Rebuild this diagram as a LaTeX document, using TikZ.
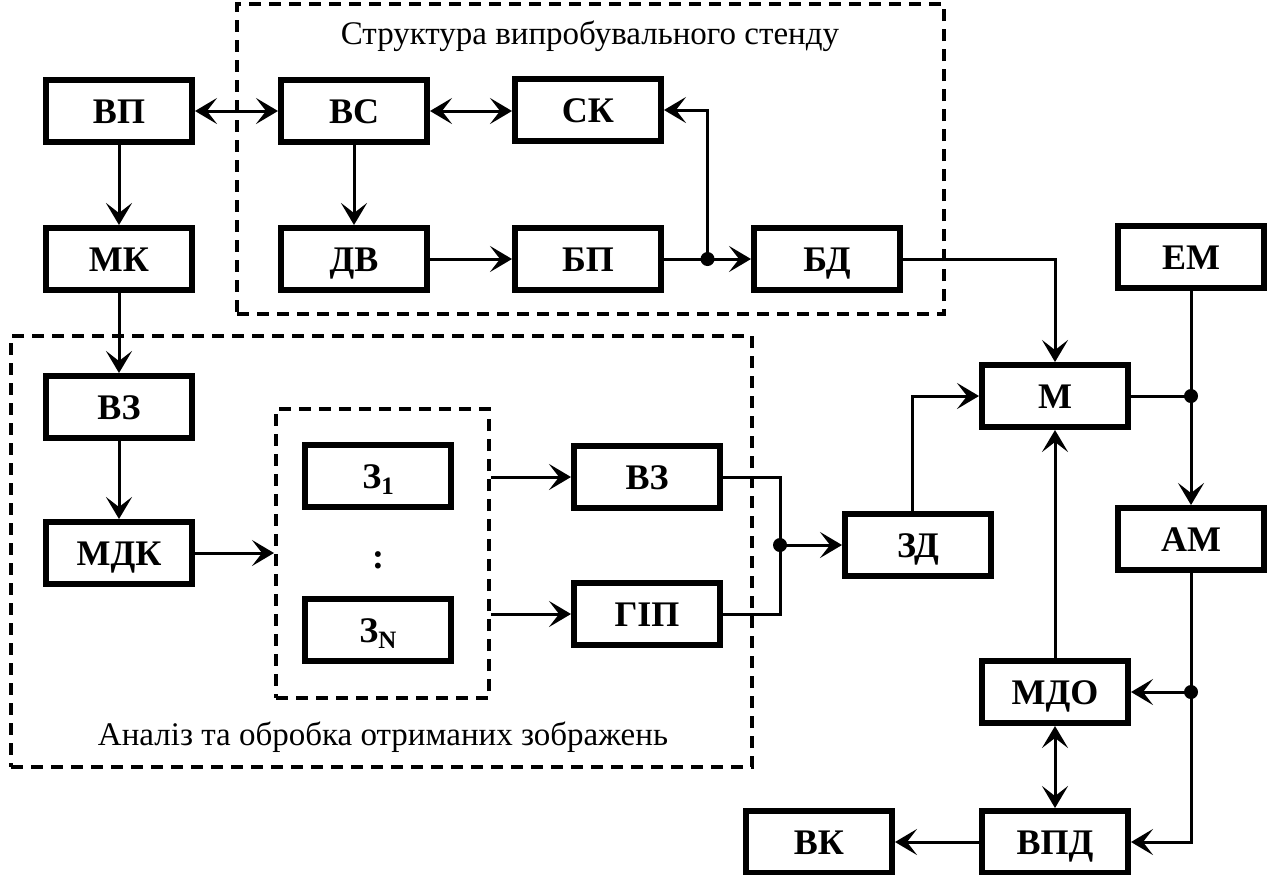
\documentclass[tikz,border=0pt]{standalone}
\usepackage{fontspec}
\setmainfont{Liberation Serif}
\usetikzlibrary{arrows.meta,fit,calc}
\newcommand{\lowidx}[1]{\raisebox{-0.4ex}{\fontsize{12.5}{12.5}\selectfont #1}}
\tikzset{
 blk/.style={draw, line width=3pt, minimum width=73pt, minimum height=31pt, inner sep=0pt,
   text height=12pt, text depth=0pt, font=\bfseries\fontsize{18}{18}\selectfont},
 grp/.style={draw, line width=2pt, dash pattern=on 6pt off 4pt, inner sep=0pt},
 con/.style={line width=1.5pt},
 tip/.tip={Stealth[length=11pt,width=13pt,inset=5pt]},
 arr/.style={con, -tip},
 darr/.style={con, tip-tip},
 dot/.style={circle, fill, inner sep=0pt, minimum size=7pt},
 lbl/.style={font=\fontsize{16.5}{16.5}\selectfont, inner sep=0pt},
}
\begin{document}
\begin{tikzpicture}[x=0.5pt,y=-0.5pt]
\useasboundingbox (0,0) rectangle (1267,874);
% group frames
\node[grp, fit={(237,4) (944,314)}] (stand) {};
\node[grp, fit={(11,336) (752,767)}] (anal) {};
\node[grp, fit={(276,409) (489,698)}] (grp) {};
\node[lbl, anchor=base] (t1) at (590,44) {Структура випробувального стенду};
\node[lbl, anchor=base] (t2) at (383,745) {Аналіз та обробка отриманих зображень};
% blocks
\node[blk] (vp) at (119,111) {ВП};
\node[blk] (vs) at (354,111) {ВС};
\node[blk] (sk) at (588,110) {СК};
\node[blk] (mk) at (119,259) {МК};
\node[blk] (dv) at (354,259) {ДВ};
\node[blk] (bp) at (588,259) {БП};
\node[blk] (bd) at (827,259) {БД};
\node[blk] (em) at (1191,257) {ЕМ};
\node[blk] (vz1) at (119,407) {ВЗ};
\node[blk] (mdk) at (119,553) {МДК};
\node[blk] (z1) at (378,476) {З\lowidx{1}};
\node[font=\bfseries\fontsize{18}{18}\selectfont] (colon) at (378,560) {:};
\node[blk] (zn) at (378,630) {З\lowidx{N}};
\node[blk] (vz2) at (647,477) {ВЗ};
\node[blk] (gip) at (647,614) {ГІП};
\node[blk] (zd) at (918,545) {ЗД};
\node[blk] (m) at (1055,396) {М};
\node[blk] (am) at (1191,539) {АМ};
\node[blk] (mdo) at (1055,692) {МДО};
\node[blk] (vpd) at (1055,842) {ВПД};
\node[blk] (vk) at (819,842) {ВК};
% junctions
\node[dot] (j1) at ($(bp.east)!0.5!(bd.west)$) {};
\coordinate (cx) at (780,0);
\node[dot] (j2) at (cx |- zd.west) {};
\node[dot] (j3) at (em.south |- m.east) {};
\node[dot] (j4) at (am.south |- mdo.east) {};
% connectors
\draw[darr] (vp.east) -- (vs.west);
\draw[darr] (vs.east) -- (vs.east -| sk.west);
\draw[arr] (vs.south) -- (dv.north);
\draw[arr] (dv.east) -- (bp.west);
\draw[arr] (bp.east) -- (bd.west);
\draw[arr] (j1.center) |- (sk.east);
\draw[arr] (bd.east) -| (m.north);
\draw[arr] (vp.south) -- (mk.north);
\draw[arr] (mk.south) -- (vz1.north);
\draw[arr] (vz1.south) -- (mdk.north);
\draw[arr] (mdk.east) -- (mdk.east -| grp.west);
\draw[arr] (grp.east |- vz2.west) -- (vz2.west);
\draw[arr] (grp.east |- gip.west) -- (gip.west);
\draw[con] (vz2.east) -| (j2.center) |- (gip.east);
\draw[arr] (j2.center) -- (zd.west);
\draw[arr] ($(zd.north)+(-6,0)$) |- (m.west);
\draw[con] (m.east) -- (j3.center);
\draw[arr] (em.south) -- (am.north);
\draw[arr] (j4.center) -- (mdo.east);
\draw[arr] (am.south) |- (vpd.east);
\draw[arr] (mdo.north) -- (m.south);
\draw[darr] (mdo.south) -- (vpd.north);
\draw[arr] (vpd.west) -- (vk.east);
\end{tikzpicture}
\end{document}
